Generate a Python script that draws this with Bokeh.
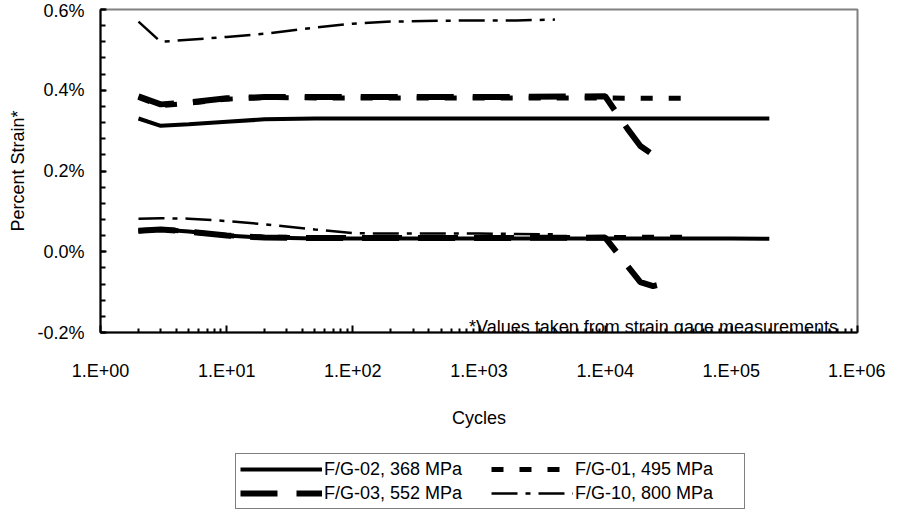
from bokeh.plotting import figure
from bokeh.layouts import column
from bokeh.models import (Range1d, FixedTicker, CustomJSTickFormatter, Legend,
                          LegendItem, Label)
from bokeh.embed import file_html
from bokeh.resources import INLINE

# ---------------- data (percent strain vs. cycles) ----------------
cycles_fg02 = [2, 3, 5, 10, 20, 50, 100, 1000, 10000, 100000, 200000]
upper_fg02 = [0.330, 0.312, 0.316, 0.322, 0.328, 0.330, 0.330, 0.330, 0.330, 0.330, 0.330]
lower_fg02 = [0.050, 0.055, 0.050, 0.040, 0.035, 0.033, 0.033, 0.033, 0.033, 0.033, 0.032]

cycles_fg01 = [2, 3, 5, 10, 20, 50, 100, 1000, 10000, 20000, 50000]
upper_fg01 = [0.382, 0.362, 0.368, 0.378, 0.382, 0.381, 0.381, 0.381, 0.381, 0.380, 0.380]
lower_fg01 = [0.052, 0.056, 0.050, 0.040, 0.036, 0.035, 0.035, 0.035, 0.035, 0.036, 0.036]

cycles_fg03 = [2, 3, 5, 10, 20, 50, 100, 1000, 10000, 15000, 19000, 24000, 30000]
upper_fg03 = [0.385, 0.365, 0.370, 0.380, 0.383, 0.383, 0.383, 0.383, 0.385, 0.305, 0.262, 0.240, 0.245]
lower_fg03 = [0.052, 0.055, 0.050, 0.040, 0.035, 0.034, 0.034, 0.034, 0.035, -0.035, -0.075, -0.085, -0.078]

cycles_fg10 = [2, 3, 5, 10, 20, 50, 100, 200, 500, 1000, 2000, 4000]
upper_fg10 = [0.570, 0.520, 0.525, 0.532, 0.540, 0.555, 0.565, 0.570, 0.572, 0.573, 0.573, 0.575]
lower_fg10 = [0.082, 0.083, 0.082, 0.076, 0.068, 0.055, 0.046, 0.045, 0.045, 0.045, 0.044, 0.043]

series_names = ["F/G-02, 368 MPa", "F/G-01, 495 MPa", "F/G-03, 552 MPa", "F/G-10, 800 MPa"]

x_ticks = [1, 10, 100, 1000, 10000, 100000, 1000000]
x_tick_labels = ["1.E+00", "1.E+01", "1.E+02", "1.E+03", "1.E+04", "1.E+05", "1.E+06"]
y_ticks = [-0.2, 0.0, 0.2, 0.4, 0.6]
y_tick_labels = ["-0.2%", "0.0%", "0.2%", "0.4%", "0.6%"]

note_text = "*Values taken from strain gage measurements"

FONT = "Liberation Sans"
FS = "18px"

p = figure(frame_width=757, frame_height=323,
           min_border_left=100, min_border_right=28, min_border_top=9, min_border_bottom=100,
           x_axis_type="log", x_range=Range1d(1, 1e6), y_range=Range1d(-0.2, 0.6),
           output_backend="svg", toolbar_location=None)
p.background_fill_color = "white"
p.border_fill_color = "white"
p.outline_line_color = "#808080"
p.outline_line_width = 2
p.xgrid.visible = False
p.ygrid.visible = False

x_minor = [k * 10 ** e for e in range(0, 6) for k in range(2, 10)]
y_minor = [round(-0.2 + 0.04 * i, 4) for i in range(0, 21)]

p.xaxis.ticker = FixedTicker(ticks=x_ticks, minor_ticks=x_minor)
p.yaxis.ticker = FixedTicker(ticks=y_ticks, minor_ticks=y_minor)
p.xaxis.formatter = CustomJSTickFormatter(args=dict(vals=x_ticks, labels=x_tick_labels), code="""
    for (let i = 0; i < vals.length; i++) { if (Math.abs(Math.log10(vals[i]) - Math.log10(tick)) < 1e-6) return labels[i]; }
    return "";
""")
p.yaxis.formatter = CustomJSTickFormatter(args=dict(vals=y_ticks, labels=y_tick_labels), code="""
    for (let i = 0; i < vals.length; i++) { if (Math.abs(vals[i] - tick) < 1e-6) return labels[i]; }
    return "";
""")

for ax in (p.xaxis[0], p.yaxis[0]):
    ax.axis_line_color = "black"
    ax.axis_line_width = 2
    ax.major_tick_line_color = "black"
    ax.minor_tick_line_color = "black"
    ax.major_tick_line_width = 2
    ax.minor_tick_line_width = 2
    ax.major_tick_out = 0
    ax.minor_tick_out = 0
    ax.major_label_text_font = FONT
    ax.major_label_text_font_size = FS
    ax.major_label_text_color = "black"
    ax.axis_label_text_font = FONT
    ax.axis_label_text_font_size = FS
    ax.axis_label_text_font_style = "normal"
    ax.axis_label_text_color = "black"

p.xaxis.major_tick_in = 7
p.xaxis.minor_tick_in = 4
p.yaxis.major_tick_in = 6
p.yaxis.minor_tick_in = 5
p.xaxis.major_label_standoff = 28
p.yaxis.major_label_standoff = 16
p.xaxis.axis_label = "Cycles"
p.yaxis.axis_label = "Percent Strain*"
p.xaxis.axis_label_standoff = 24
p.yaxis.axis_label_standoff = 6

styles = [
    dict(line_width=4, line_dash="solid"),
    dict(line_width=5, line_dash="12 16"),
    dict(line_width=6, line_dash="37 19"),
    dict(line_width=2.5, line_dash="26 8 5 8"),
]
data = [
    (cycles_fg02, upper_fg02, lower_fg02),
    (cycles_fg01, upper_fg01, lower_fg01),
    (cycles_fg03, upper_fg03, lower_fg03),
    (cycles_fg10, upper_fg10, lower_fg10),
]

for (cyc, up, lo), st in zip(data, styles):
    p.line(cyc, up, line_color="black", **st)
    p.line(cyc, lo, line_color="black", **st)

note = Label(x=7.0e5, y=-0.2, y_offset=6, text=note_text, text_align="right",
             text_baseline="alphabetic", text_font=FONT, text_font_size=FS, text_color="black")
p.add_layout(note)

# ---------------- legend strip below the chart ----------------
# (the series are drawn again here only as legend keys; the strip's ranges keep them out of view)
lg = figure(frame_width=885, frame_height=78, min_border=0,
            x_range=Range1d(-1, 0), y_range=Range1d(-1, 0),
            x_axis_location=None, y_axis_location=None,
            output_backend="svg", toolbar_location=None)
lg.outline_line_color = None
lg.xgrid.visible = False
lg.ygrid.visible = False

legend_renderers = [lg.line(cyc, up, line_color="black", **st)
                    for (cyc, up, lo), st in zip(data, styles)]
items = [LegendItem(label=n, renderers=[r]) for n, r in zip(series_names, legend_renderers)]
# column-first filling: first column F/G-02, F/G-03; second column F/G-01, F/G-10
items = [items[0], items[2], items[1], items[3]]
legend = Legend(items=items, location=(235, 1), ncols=2,
                label_text_font=FONT, label_text_font_size=FS, label_text_color="black",
                glyph_width=82, glyph_height=22, label_height=22, label_width=165,
                label_standoff=2, spacing=2, padding=4, margin=0,
                border_line_color="black", border_line_width=1,
                background_fill_color="white", background_fill_alpha=1.0)
lg.add_layout(legend)

layout = column(p, lg, spacing=0)
open("out.html", "w").write(file_html(layout, INLINE))
